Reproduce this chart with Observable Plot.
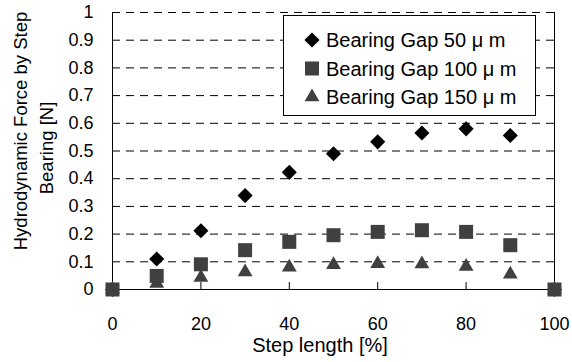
<!DOCTYPE html>
<html>
<head>
<meta charset="utf-8">
<script src="https://cdn.jsdelivr.net/npm/d3@7"></script>
<script src="https://cdn.jsdelivr.net/npm/@observablehq/plot@0.6"></script>
<style>
  html, body { margin: 0; padding: 0; background: #fff; }
  #chart { position: relative; width: 572px; height: 362px; }
  svg { font-family: "Liberation Sans", Arial, sans-serif; }
</style>
</head>
<body>
<div id="chart"></div>
<script>
const stepLength = [0, 10, 20, 30, 40, 50, 60, 70, 80, 90, 100];
const gap50  = [0, 0.11, 0.212, 0.339, 0.423, 0.49, 0.533, 0.565, 0.58, 0.556, 0];
const gap100 = [0, 0.049, 0.091, 0.142, 0.172, 0.196, 0.208, 0.214, 0.208, 0.16, 0];
const gap150 = [0, 0.022, 0.043, 0.063, 0.08, 0.089, 0.093, 0.092, 0.083, 0.055, 0];
const seriesNames = ["Bearing Gap 50 \u03bc m", "Bearing Gap 100 \u03bc m", "Bearing Gap 150 \u03bc m"];
const xTicks = [0, 20, 40, 60, 80, 100];
const xInnerTicks = [20, 40, 60, 80];
const yTicks = [0, 0.1, 0.2, 0.3, 0.4, 0.5, 0.6, 0.7, 0.8, 0.9, 1];
const yGrid = [0.1, 0.2, 0.3, 0.4, 0.5, 0.6, 0.7, 0.8, 0.9, 1];
const xTitle = "Step length [%]";
const yTitleLines = ["Hydrodynamic Force by Step", "Bearing [N]"];

const styles = [
  {symbol: "diamond2", r: 6.8, fill: "#000000"},
  {symbol: "square", r: 7.9, fill: "#404040"},
  {symbol: "triangle", r: 5.5, fill: "#404040"}
];
const seriesValues = [gap50, gap100, gap150];
const rows = seriesValues.map(vals => stepLength.map((x, i) => ({x, y: vals[i]})));

const plot = Plot.plot({
  width: 572,
  height: 362,
  marginLeft: 112,
  marginRight: 18,
  marginTop: 12,
  marginBottom: 73,
  x: {domain: [0, 100]},
  y: {domain: [0, 1]},
  style: {fontFamily: "'Liberation Sans', Arial, sans-serif", background: "#fff"},
  marks: [
    Plot.ruleY(yGrid, {stroke: "#000", strokeWidth: 1, strokeDasharray: "8,6"}),
    Plot.ruleX([0, 100], {stroke: "#000", strokeWidth: 1}),
    Plot.ruleY([0], {stroke: "#000", strokeWidth: 1}),
    Plot.ruleX(xInnerTicks, {y1: 0, y2: 0.025, stroke: "#000", strokeWidth: 1}),
    Plot.axisY({ticks: yTicks, tickSize: 0, tickPadding: 19, fontSize: 18, label: null, tickFormat: d => String(d)}),
    Plot.axisX({ticks: xTicks, tickSize: 0, tickPadding: 28, fontSize: 18, label: null, tickFormat: d => String(d)}),
    ...rows.map((data, k) => Plot.dot(data, {x: "x", y: "y", symbol: styles[k].symbol, r: styles[k].r, fill: styles[k].fill, stroke: "none"}))
  ]
});

document.getElementById("chart").appendChild(plot);
const svg = d3.select(plot);

// Axis titles
svg.append("text")
  .attr("x", 320).attr("y", 345)
  .attr("text-anchor", "middle").attr("dominant-baseline", "central")
  .attr("font-size", 20).attr("fill", "#000")
  .text(xTitle);
const yPos = [[20, 131], [46, 148]];
yTitleLines.forEach((t, i) => {
  svg.append("text")
    .attr("transform", `translate(${yPos[i][0]},${yPos[i][1]}) rotate(-90)`)
    .attr("text-anchor", "middle").attr("dominant-baseline", "central")
    .attr("font-size", 18.5).attr("fill", "#000")
    .text(t);
});

// Legend
const lg = svg.append("g");
lg.append("rect").attr("x", 283.5).attr("y", 15.5).attr("width", 252).attr("height", 100)
  .attr("fill", "#fff").attr("stroke", "#000").attr("stroke-width", 1);
const symMap = {diamond2: d3.symbolDiamond2, square: d3.symbolSquare, triangle: d3.symbolTriangle};
seriesNames.forEach((name, i) => {
  const cy = 40 + i * 28.5;
  const s = styles[i];
  lg.append("path")
    .attr("transform", `translate(312,${cy})`)
    .attr("d", d3.symbol(symMap[s.symbol], Math.PI * s.r * s.r)())
    .attr("fill", s.fill);
  lg.append("text")
    .attr("x", 326).attr("y", cy)
    .attr("text-anchor", "start")
    .attr("dominant-baseline", "central")
    .attr("font-size", 20).attr("fill", "#000")
    .text(name);
});
</script>
</body>
</html>
